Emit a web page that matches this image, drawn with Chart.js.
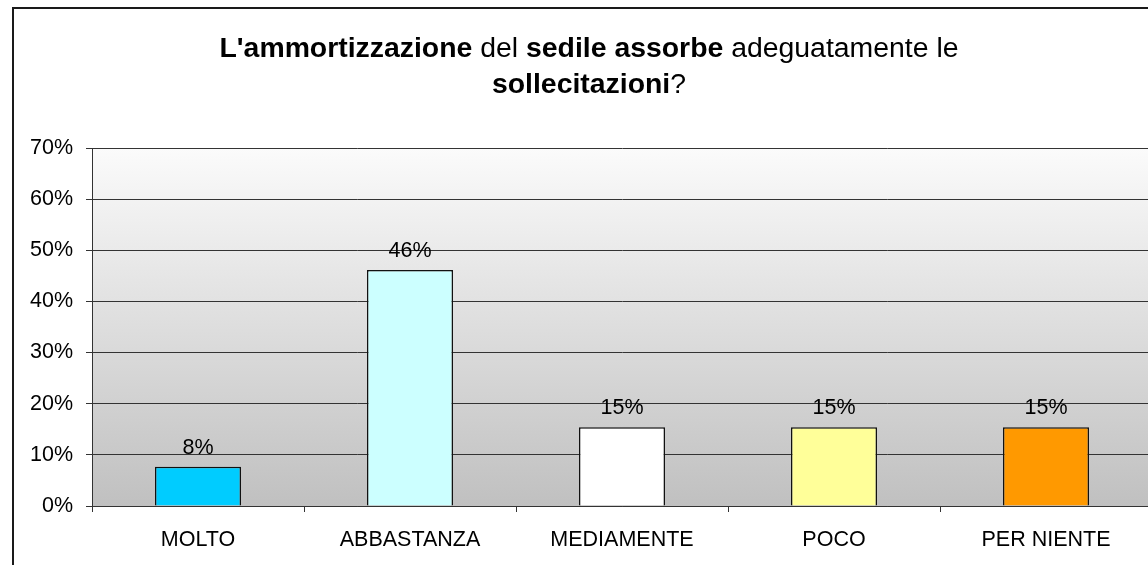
<!DOCTYPE html>
<html>
<head>
<meta charset="utf-8">
<script src="https://cdn.jsdelivr.net/npm/chart.js"></script>
<style>
  html, body { margin: 0; padding: 0; background: #fff; overflow: hidden; }
  #wrap { position: relative; width: 1148px; height: 565px; overflow: hidden; }
  #frame { position: absolute; left: 12px; top: 7px; width: 2000px; height: 2000px;
           border-top: 2px solid #1a1a1a; border-left: 2px solid #1a1a1a; }
  #title { position: absolute; left: 0; top: 29px; width: 1178px; text-align: center;
           font-family: "Liberation Sans", Arial, sans-serif; font-size: 28.4px; line-height: 36px; color: #000; }
  #title b { font-weight: bold; }
  canvas { position: absolute; left: 0; top: 0; }
</style>
</head>
<body>
<div id="wrap">
  <div id="frame"></div>
  <canvas id="sedileChart" width="1170" height="565"></canvas>
  <div id="title"><b>L'ammortizzazione</b> del <b>sedile assorbe</b> adeguatamente le<br><b>sollecitazioni</b>?</div>
</div>
<script>
// categories and answer shares (13 answers: 1, 6, 2, 2, 2)
var categories = ['MOLTO', 'ABBASTANZA', 'MEDIAMENTE', 'POCO', 'PER NIENTE'];
var percentages = [7.69, 46.15, 15.38, 15.38, 15.38];
var barColors = ['#00CCFF', '#CCFFFF', '#FFFFFF', '#FFFF99', '#FF9900'];
var yTicks = [0, 10, 20, 30, 40, 50, 60, 70];

var axisFont = { family: '"Liberation Sans", Arial, sans-serif', size: 21.5 };

// grey gradient behind the plot
var plotBackground = {
    id: 'plotBackground',
    beforeDraw: function(chart) {
        var a = chart.chartArea, ctx = chart.ctx;
        var g = ctx.createLinearGradient(0, a.top, 0, a.bottom);
        g.addColorStop(0, '#fbfbfb');
        g.addColorStop(1, '#c0c0c0');
        ctx.save();
        ctx.fillStyle = g;
        ctx.fillRect(a.left, a.top, a.right - a.left, a.bottom - a.top);
        ctx.restore();
    }
};

// value labels above the bars
var valueLabels = {
    id: 'valueLabels',
    afterDatasetsDraw: function(chart) {
        var ctx = chart.ctx;
        var meta = chart.getDatasetMeta(0);
        ctx.save();
        ctx.font = '21.5px "Liberation Sans", Arial, sans-serif';
        ctx.fillStyle = '#000';
        ctx.textAlign = 'center';
        ctx.textBaseline = 'alphabetic';
        meta.data.forEach(function(bar, i) {
            ctx.fillText(Math.round(percentages[i]) + '%', bar.x, bar.y - 13);
        });
        ctx.restore();
    }
};

var sedileChartCanvas = document.getElementById('sedileChart');
var sedileChart = new Chart(sedileChartCanvas, {
    type: 'bar',
    data: {
        labels: categories,
        datasets: [
            {
                data: percentages,
                backgroundColor: barColors,
                borderColor: '#111',
                borderWidth: 1.5,
                barPercentage: 0.406,
                categoryPercentage: 1
            }
        ]
    },
    options: {
        responsive: false,
        animation: false,
        layout: { padding: { left: 12, top: 148, right: 18, bottom: 0 } },
        plugins: {
            legend: { display: false },
            tooltip: { enabled: false },
            title: { display: false }
        },
        scales: {
            x: {
                offset: true,
                grid: { display: true, drawOnChartArea: false, offset: true, tickLength: 6, color: '#333' },
                border: { display: true, color: '#333' },
                ticks: { font: axisFont, color: '#000', padding: 15, maxRotation: 0 },
                afterFit: function(scale) { scale.height = 59; }
            },
            y: {
                min: 0,
                max: 70,
                afterBuildTicks: function(scale) {
                    scale.ticks = yTicks.map(function(v) { return { value: v }; });
                },
                grid: { color: '#333', tickLength: 6 },
                border: { display: true, color: '#333' },
                ticks: {
                    font: axisFont,
                    color: '#000',
                    padding: 13,
                    callback: function(v) { return v + '%'; }
                },
                afterFit: function(scale) { scale.width = 80; }
            }
        }
    },
    plugins: [plotBackground, valueLabels]
});
</script>
</body>
</html>
